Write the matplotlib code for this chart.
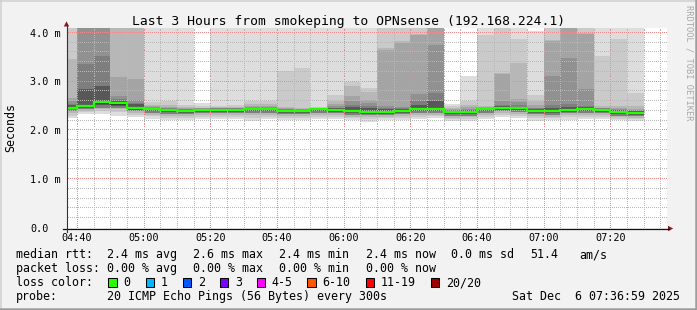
import numpy as np
import matplotlib
matplotlib.use("Agg")
import matplotlib.pyplot as plt
from matplotlib.patches import Polygon, Rectangle
from matplotlib.lines import Line2D

# ---------------- data ----------------
title = "Last 3 Hours from smokeping to OPNsense (192.168.224.1)"
view_start = "04:36:59"          # left edge of the 3 hour window
view_hours = 3
first_bin = "04:35"               # 5-minute RRD steps
step_min = 5
n_bins = 35

# sorted ping ranks per 5-minute bin (ms); values above 4.1 are off the chart
up20 = [4.5, 4.5, 4.5, 4.5, 4.5, 4.5, 4.5, 4.5, 2.57, 4.5, 4.5, 4.5, 4.5, 4.5, 4.5, 4.5, 4.5, 4.5,
        4.5, 4.5, 4.5, 4.5, 4.5, 2.55, 3.11, 4.5, 4.5, 4.5, 4.03, 4.5, 4.5, 4.5, 4.5, 4.5, 4.5]
up19 = [4.5, 4.5, 4.5, 4.5, 4.5, 2.59, 2.60, 2.53, 2.50, 2.51, 2.53, 2.60, 2.60, 3.21, 3.29, 2.48, 2.73, 2.99,
        2.86, 4.5, 4.5, 4.5, 4.5, 2.50, 2.60, 3.95, 4.5, 3.88, 2.73, 4.5, 4.5, 4.5, 3.52, 3.88, 2.76]
up18 = [3.47, 4.5, 4.5, 4.5, 4.5, 2.53, 2.53, 2.48, 2.47, 2.48, 2.49, 2.55, 2.55, 2.48, 2.46, 2.46, 2.60, 2.91,
        2.78, 3.68, 3.84, 3.97, 4.5, 2.46, 2.52, 2.50, 3.17, 3.38, 2.60, 3.86, 4.5, 4.00, 2.50, 2.50, 2.50]
up17 = [2.66, 4.5, 4.5, 3.09, 3.06, 2.50, 2.49, 2.46, 2.46, 2.47, 2.47, 2.50, 2.50, 2.45, 2.44, 2.45, 2.55, 2.70,
        2.62, 3.65, 3.80, 3.95, 4.5, 2.44, 2.48, 2.48, 3.16, 2.65, 2.52, 3.84, 4.5, 3.98, 2.47, 2.45, 2.44]
up16 = [2.60, 4.5, 4.5, 2.70, 2.62, 2.48, 2.46, 2.44, 2.45, 2.46, 2.46, 2.48, 2.48, 2.44, 2.43, 2.44, 2.50, 2.60,
        2.56, 2.50, 2.49, 2.75, 3.76, 2.42, 2.44, 2.47, 2.60, 2.58, 2.47, 3.11, 3.48, 2.84, 2.46, 2.43, 2.42]
up15 = [2.55, 3.37, 3.53, 2.64, 2.57, 2.47, 2.45, 2.43, 2.44, 2.45, 2.45, 2.47, 2.47, 2.43, 2.42, 2.44, 2.47, 2.52,
        2.51, 2.46, 2.46, 2.60, 2.76, 2.41, 2.42, 2.46, 2.52, 2.52, 2.45, 2.52, 2.55, 2.50, 2.45, 2.42, 2.40]
up13 = [2.52, 2.85, 2.92, 2.61, 2.54, 2.46, 2.44, 2.42, 2.43, 2.44, 2.44, 2.46, 2.46, 2.42, 2.41, 2.43, 2.45, 2.48,
        2.46, 2.43, 2.44, 2.53, 2.60, 2.40, 2.41, 2.45, 2.50, 2.49, 2.43, 2.47, 2.49, 2.48, 2.44, 2.41, 2.39]
up11 = [2.48, 2.53, 2.60, 2.57, 2.49, 2.44, 2.42, 2.41, 2.43, 2.43, 2.43, 2.45, 2.44, 2.41, 2.41, 2.44, 2.43, 2.40,
        2.40, 2.40, 2.41, 2.44, 2.45, 2.38, 2.38, 2.44, 2.47, 2.46, 2.41, 2.40, 2.43, 2.44, 2.43, 2.38, 2.37]
median = [2.47, 2.51, 2.58, 2.56, 2.47, 2.43, 2.41, 2.40, 2.42, 2.42, 2.42, 2.44, 2.43, 2.40, 2.40, 2.43, 2.42, 2.39,
          2.38, 2.38, 2.40, 2.43, 2.43, 2.37, 2.37, 2.43, 2.46, 2.45, 2.40, 2.39, 2.42, 2.43, 2.42, 2.37, 2.36]
lo10 = [2.45, 2.48, 2.55, 2.53, 2.44, 2.41, 2.39, 2.38, 2.40, 2.40, 2.40, 2.42, 2.41, 2.38, 2.38, 2.41, 2.40, 2.37,
        2.36, 2.36, 2.38, 2.41, 2.41, 2.35, 2.35, 2.41, 2.44, 2.43, 2.38, 2.37, 2.40, 2.41, 2.40, 2.35, 2.34]
lo8 = [2.43, 2.46, 2.52, 2.51, 2.42, 2.39, 2.37, 2.36, 2.38, 2.38, 2.38, 2.40, 2.39, 2.36, 2.36, 2.39, 2.38, 2.35,
       2.34, 2.34, 2.36, 2.39, 2.39, 2.33, 2.33, 2.39, 2.42, 2.41, 2.36, 2.35, 2.38, 2.39, 2.38, 2.33, 2.32]
lo4 = [2.40, 2.43, 2.47, 2.47, 2.39, 2.36, 2.34, 2.33, 2.35, 2.35, 2.35, 2.36, 2.36, 2.33, 2.33, 2.36, 2.35, 2.32,
       2.31, 2.31, 2.33, 2.36, 2.36, 2.30, 2.30, 2.36, 2.39, 2.38, 2.33, 2.32, 2.35, 2.36, 2.35, 2.30, 2.29]
lo3 = [2.35, 2.40, 2.43, 2.43, 2.35, 2.32, 2.30, 2.29, 2.31, 2.31, 2.31, 2.31, 2.32, 2.29, 2.29, 2.32, 2.31, 2.28,
       2.27, 2.28, 2.29, 2.32, 2.32, 2.26, 2.27, 2.32, 2.35, 2.34, 2.29, 2.28, 2.31, 2.32, 2.31, 2.27, 2.26]
lo2 = [2.30, 2.37, 2.39, 2.37, 2.31, 2.29, 2.26, 2.26, 2.27, 2.27, 2.28, 2.26, 2.28, 2.26, 2.26, 2.28, 2.28, 2.25,
       2.23, 2.25, 2.26, 2.28, 2.29, 2.23, 2.24, 2.28, 2.31, 2.30, 2.25, 2.25, 2.27, 2.28, 2.27, 2.24, 2.23]
lo1 = [2.25, 2.33, 2.34, 2.30, 2.27, 2.24, 2.22, 2.22, 2.24, 2.23, 2.24, 2.20, 2.24, 2.22, 2.22, 2.24, 2.24, 2.21,
       2.18, 2.21, 2.22, 2.24, 2.25, 2.20, 2.20, 2.23, 2.27, 2.25, 2.19, 2.21, 2.22, 2.24, 2.23, 2.21, 2.19]

x_tick_labels = ["04:40", "05:00", "05:20", "05:40", "06:00", "06:20", "06:40", "07:00", "07:20"]
y_tick_values = [0.0, 1.0, 2.0, 3.0, 4.0]
y_tick_labels = ["0.0", "1.0 m", "2.0 m", "3.0 m", "4.0 m"]
y_max = 4.1
y_label = "Seconds"

rtt_line = ["median rtt:", "2.4 ms avg", "2.6 ms max", "2.4 ms min", "2.4 ms now", "0.0 ms sd", "51.4", "am/s"]
loss_line = ["packet loss:", "0.00 % avg", "0.00 % max", "0.00 % min", "0.00 % now"]
loss_labels = ["0", "1", "2", "3", "4-5", "6-10", "11-19", "20/20"]
loss_colors = ["#26ff00", "#00b8ff", "#0059ff", "#7e00ff", "#ff00ff", "#ff5500", "#ff0000", "#a00000"]
probe_text = ["probe:", "20 ICMP Echo Pings (56 Bytes) every 300s"]
date_text = "Sat Dec  6 07:36:59 2025"
credit = "RRDTOOL / TOBI OETIKER"

# ---------------- helpers ----------------
def to_min(s):
    parts = [int(p) for p in s.split(":")]
    m = parts[0] * 60 + parts[1]
    if len(parts) > 2:
        m += parts[2] / 60.0
    return m

W, H = 697, 310
MONO = "DejaVu Sans Mono"
fig = plt.figure(figsize=(W / 100, H / 100), dpi=100)
fig.patch.set_facecolor("#f2f2f2")

def fx(x):
    return x / W

def fy(y):
    return 1 - y / H

PL, PT, PW, PH = 67, 28, 600, 200
ax = fig.add_axes([fx(PL), fy(PT + PH), PW / W, PH / H])
ax.set_facecolor("white")
for s in ax.spines.values():
    s.set_visible(False)
ax.set_xticks([])
ax.set_yticks([])

x0 = to_min(view_start)
x1 = x0 + view_hours * 60
ax.set_xlim(x0, x1)
ax.set_ylim(0, y_max)

b0 = to_min(first_bin)
edges = b0 + step_min * np.arange(n_bins + 1)

# smokeping smoke: pairs of ranks (k, 21-k) in grey levels
bands = [
    (lo1, up20, "#dddddd"),
    (lo2, up19, "#cacaca"),
    (lo3, up18, "#b7b7b7"),
    (lo4, up17, "#a4a4a4"),
    (lo4, up16, "#919191"),
    (lo4, up15, "#7e7e7e"),
    (lo8, up13, "#585858"),
    (lo10, up11, "#323232"),
]
for lo, hi, c in bands:
    ax.stairs(np.asarray(hi), edges, baseline=np.asarray(lo), fill=True,
              color=c, linewidth=0, zorder=1)

# grid: dotted lines made of single pixels every 2 px
px_x = (x1 - x0) / PW
px_y = y_max / PH
MINOR_C, MAJOR_C = "#b8b8b8", "#ee8a8a"
for v in np.arange(0.2, y_max, 0.2):
    major = abs(v - round(v)) < 1e-6
    xs = x0 + (np.arange(0, PW, 2) + 0.5) * px_x
    ax.plot(xs, np.full(xs.shape, v), ls="none", marker=",",
            color=MAJOR_C if major else MINOR_C, zorder=3)
t = np.ceil(x0 / 5) * 5
while t < x1:
    major = int(round(t)) % 20 == 0
    ys = (np.arange(0, PH, 2) + 0.5) * px_y
    ax.plot(np.full(ys.shape, t), ys, ls="none", marker=",",
            color=MAJOR_C if major else MINOR_C, zorder=3)
    t += 5

# median line (0 loss -> green)
ax.stairs(np.asarray(median), edges, baseline=None, color=loss_colors[0],
          linewidth=1.6, zorder=5)

# axes lines and arrows (pixel layout)
def fline(xs, ys, **kw):
    fig.add_artist(Line2D([fx(v) for v in xs], [fy(v) for v in ys], transform=fig.transFigure, **kw))

fline([63, 669], [228.5, 228.5], color="#111111", lw=0.9)
fline([66.5, 66.5], [232, 26], color="#333333", lw=0.8)
fig.add_artist(Polygon([(fx(63.8), fy(26.5)), (fx(69.2), fy(26.5)), (fx(66.5), fy(21.3))],
                       closed=True, transform=fig.transFigure, color="#7f1f1f", lw=0))
fig.add_artist(Polygon([(fx(668), fy(225.8)), (fx(668), fy(231.2)), (fx(673.2), fy(228.5))],
                       closed=True, transform=fig.transFigure, color="#7f1f1f", lw=0))

# frame shading
fline([0, W], [0.75, 0.75], color="#cfcfcf", lw=1.1)
fline([0.75, 0.75], [0, H], color="#cfcfcf", lw=1.1)
fline([0, W], [H - 1.25, H - 1.25], color="#9e9e9e", lw=1.8)
fline([W - 1.25, W - 1.25], [0, H], color="#9e9e9e", lw=1.8)

# text
def ftext(x, y, s, **kw):
    kw.setdefault("family", MONO)
    kw.setdefault("color", "black")
    fig.text(fx(x), fy(y), s, **kw)

ftext(W / 2, 24.5, title, size=9.35, ha="center", va="baseline")
ftext(11, 127.5, y_label, size=8.35, ha="center", va="center", rotation=90)
ftext(689, 5, credit, size=6.3, ha="center", va="top", rotation=270, color="#a8a8a8")

def ypix(v):
    return PT + PH - v / y_max * PH

def xpix(m):
    return PL + (m - x0) / (x1 - x0) * PW

for v, lab in zip(y_tick_values, y_tick_labels):
    ftext(30, ypix(v) + 3.8, lab, size=7.25, ha="left", va="baseline")
for lab in x_tick_labels:
    ftext(xpix(to_min(lab)), 240.7, lab, size=7.25, ha="center", va="baseline")

LS = 8.35
rtt_x = [16, 107.3, 193.3, 279.3, 366, 451, 530, 579.3]
for xx, s in zip(rtt_x, rtt_line):
    ftext(xx, 258.4, s, size=LS, ha="left", va="baseline")
loss_x = [16, 107.3, 193.3, 279.3, 366]
for xx, s in zip(loss_x, loss_line):
    ftext(xx, 272.2, s, size=LS, ha="left", va="baseline")
ftext(16, 286.1, "loss color:", size=LS, ha="left", va="baseline")
box_x = [108.3, 145.7, 182.7, 220, 256.7, 307.3, 366, 430.7]
for xx, lab, col in zip(box_x, loss_labels, loss_colors):
    fig.add_artist(Rectangle((fx(xx), fy(286.7)), 8.3 / W, 8.3 / H, transform=fig.transFigure,
                             facecolor=col, edgecolor="black", lw=0.75))
    ftext(xx + 15, 286.1, lab, size=LS, ha="left", va="baseline")
ftext(16, 300, probe_text[0], size=LS, ha="left", va="baseline")
ftext(107.3, 300, probe_text[1], size=LS, ha="left", va="baseline")
ftext(680, 300, date_text, size=LS, ha="right", va="baseline")

fig.savefig("out.png", dpi=100, facecolor=fig.get_facecolor())
